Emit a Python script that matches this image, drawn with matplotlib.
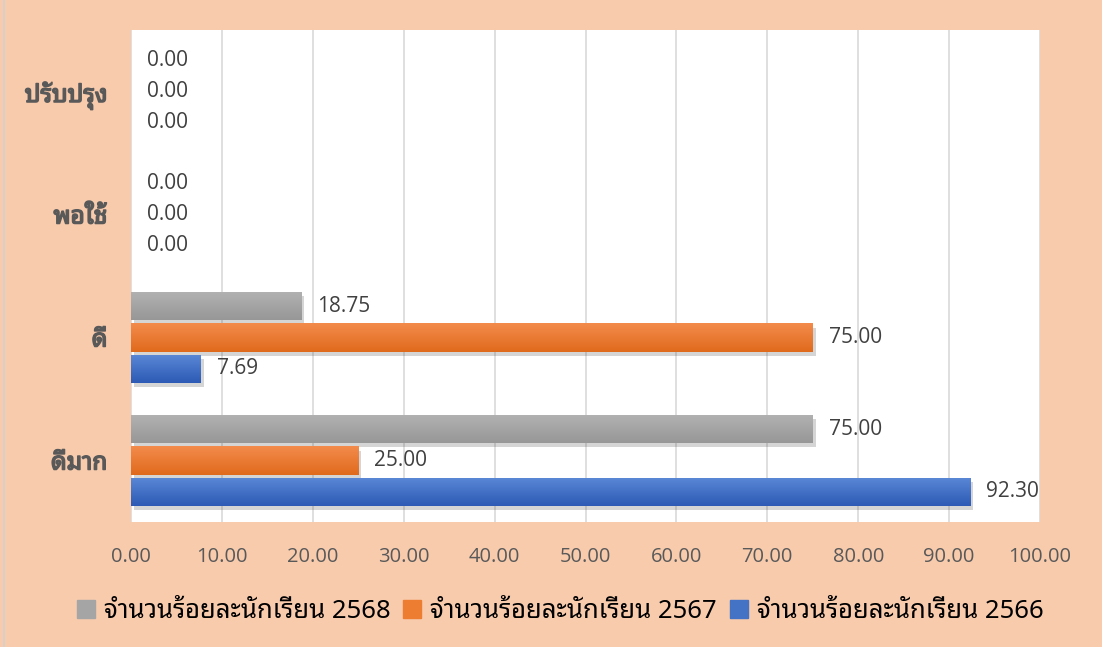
import matplotlib
matplotlib.use("Agg")
import matplotlib.pyplot as plt
from matplotlib import patheffects as pe
from matplotlib.patches import Rectangle
from matplotlib.lines import Line2D
from matplotlib.colors import to_rgb
import numpy as np

# ---- data ----
categories = ["ดีมาก", "ดี", "พอใช้", "ปรับปรุง"]
series_names = ["จำนวนร้อยละนักเรียน 2566", "จำนวนร้อยละนักเรียน 2567", "จำนวนร้อยละนักเรียน 2568"]
values_2566 = [92.30, 7.69, 0.00, 0.00]
values_2567 = [25.00, 75.00, 0.00, 0.00]
values_2568 = [75.00, 18.75, 0.00, 0.00]
x_ticks = [0, 10, 20, 30, 40, 50, 60, 70, 80, 90, 100]

THAI = ["Noto Sans Thai Looped", "Noto Sans", "DejaVu Sans"]
plt.rcParams['font.family'] = THAI

W, H = 1102, 647
fig = plt.figure(figsize=(W / 100, H / 100), dpi=100)
fig.patch.set_facecolor("#F8CBAD")
fig.add_artist(Line2D([4 / W, 4 / W], [0, 1], transform=fig.transFigure, color="#D0D0D0", linewidth=1.2))

ax = fig.add_axes([131 / W, 1 - 522 / H, (1040 - 131) / W, (522 - 30) / H])
ax.set_facecolor("white")
ax.set_xlim(0, 100)
ax.set_ylim(-0.5, 3.5)

y = np.arange(len(categories))
off = 0.256
bh = 0.228
# (values, base colour, top colour, bottom colour, offset)
series = [
    (values_2566, "#4472C4", "#5B88D6", "#2C5AB5", -off),
    (values_2567, "#ED7D31", "#F38B4C", "#E06A1C", 0.0),
    (values_2568, "#A5A5A5", "#B2B2B2", "#979797", off),
]
shadow = [pe.SimplePatchShadow(offset=(2, -3), alpha=0.22, shadow_rgbFace="#404040"), pe.Normal()]
for vals, col, ctop, cbot, o in series:
    bars = ax.barh(y + o, vals, height=bh, color=col, zorder=3)
    grad = np.linspace(0, 1, 64)[:, None]
    c0, c1 = np.array(to_rgb(ctop)), np.array(to_rgb(cbot))
    img = (c0[None, None, :] * (1 - grad[..., None]) + c1[None, None, :] * grad[..., None])
    img = np.repeat(img, 2, axis=1)
    for b in bars:
        b.set_path_effects(shadow)
        if b.get_width() > 0:
            x0, y0, w, h = b.get_x(), b.get_y(), b.get_width(), b.get_height()
            im = ax.imshow(img, extent=(x0, x0 + w, y0, y0 + h), origin="upper",
                           aspect="auto", zorder=3.5, interpolation="bilinear")
            im.set_clip_path(b)
    for yi, v in zip(y + o, vals):
        ax.annotate(f"{v:.2f}", xy=(v, yi), xytext=(16, 0), textcoords="offset pixels",
                    va="center", ha="left", fontsize=15, color="#404040",
                    fontfamily=["Open Sans", "DejaVu Sans"], zorder=4)

ax.set_xlim(0, 100)
ax.set_ylim(-0.5, 3.5)
ax.set_xticks(x_ticks)
ax.set_xticklabels([f"{v:.2f}" for v in x_ticks], fontsize=14.5, color="#595959",
                   fontfamily=["Open Sans", "DejaVu Sans"])
ax.set_yticks(y)
ax.set_yticklabels(categories, fontsize=17.5, color="#595959")
for t in ax.get_yticklabels():
    t.set_path_effects([pe.withStroke(linewidth=1.1, foreground="#595959")])
ax.tick_params(axis="both", length=0)
ax.tick_params(axis="x", pad=18)
ax.tick_params(axis="y", pad=17)
ax.grid(axis="x", color="#D9D9D9", linewidth=1.2, zorder=0)
ax.set_axisbelow(True)
for s in ax.spines.values():
    s.set_visible(False)

handles = [Rectangle((0, 0), 1, 1, color=c) for c in ["#A5A5A5", "#ED7D31", "#4472C4"]]
labels = [series_names[2], series_names[1], series_names[0]]
fig.legend(handles, labels, loc="center", bbox_to_anchor=(560 / W, 1 - 611 / H), ncol=3, frameon=False,
           prop={"size": 18.5, "family": THAI}, labelcolor="#000000", handlelength=0.7, handleheight=0.7,
           handletextpad=0.35, columnspacing=0.5)

fig.savefig("out.png", dpi=100, facecolor=fig.get_facecolor())
